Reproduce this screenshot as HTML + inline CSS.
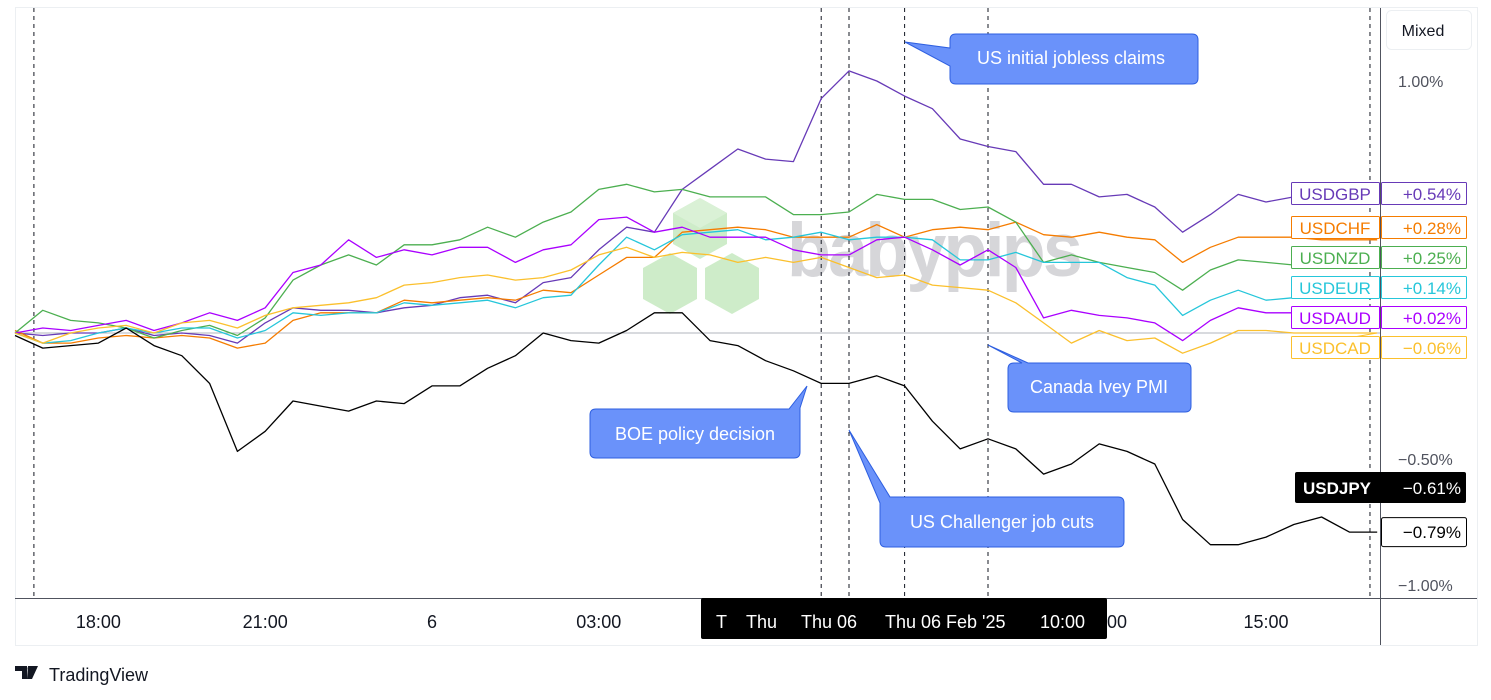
<!DOCTYPE html>
<html><head><meta charset="utf-8">
<style>
html,body{margin:0;padding:0;background:#fff;}
body{width:1491px;height:700px;overflow:hidden;font-family:"Liberation Sans",sans-serif;}
svg{display:block}
</style></head>
<body>
<svg id="chart" width="1491" height="700" viewBox="0 0 1491 700" xmlns="http://www.w3.org/2000/svg">
  <rect x="15.5" y="7.5" width="1462" height="638" fill="#fff" stroke="#eceff2" stroke-width="1"/>
  <g id="watermark" opacity="0.85">
    <polygon points="700,198 727,213 727,244 700,259 673,244 673,213" fill="#c6e9c0"/>
    <polygon points="700,198 727,213 700,228 673,213" fill="#d4efcf"/>
    <polygon points="670,253 697,268 697,299 670,314 643,299 643,268" fill="#c6e9c0"/>
    <polygon points="732,253 759,268 759,299 732,314 705,299 705,268" fill="#c6e9c0"/>
    <text x="787" y="276" font-family="Liberation Sans, sans-serif" font-weight="bold" font-size="76" fill="#cfcfd3" letter-spacing="-3" textLength="293" lengthAdjust="spacingAndGlyphs">babypips</text>
  </g>
  <line x1="15" y1="333" x2="1380" y2="333" stroke="#b2b5be" stroke-width="1"/>
  <g id="events"></g>
  <g id="series"></g>
  <g id="callouts">
    <g>
      <path d="M905,42 L950,48 L950,40 Q950,34 956,34 L1192,34 Q1198,34 1198,40 L1198,78 Q1198,84 1192,84 L956,84 Q950,84 950,78 L950,66 Z" fill="#6a92fa" stroke="#2e5fe0" stroke-width="1"/>
      <text x="1071" y="64" text-anchor="middle" font-size="18" fill="#fff">US initial jobless claims</text>
    </g>
    <g>
      <path d="M988,345 L1022,363 L1014,363 Q1008,363 1008,369 L1008,406 Q1008,412 1014,412 L1185,412 Q1191,412 1191,406 L1191,369 Q1191,363 1185,363 L1028,363 Z" fill="#6a92fa" stroke="#2e5fe0" stroke-width="1"/>
      <text x="1099" y="393" text-anchor="middle" font-size="18" fill="#fff">Canada Ivey PMI</text>
    </g>
    <g>
      <path d="M807,386 L800,408 L800,452 Q800,458 794,458 L596,458 Q590,458 590,452 L590,415 Q590,409 596,409 L789,409 Z" fill="#6a92fa" stroke="#2e5fe0" stroke-width="1"/>
      <text x="695" y="440" text-anchor="middle" font-size="18" fill="#fff">BOE policy decision</text>
    </g>
    <g>
      <path d="M849,430 L890,497 L1118,497 Q1124,497 1124,503 L1124,541 Q1124,547 1118,547 L886,547 Q880,547 880,541 L880,503 Z" fill="#6a92fa" stroke="#2e5fe0" stroke-width="1"/>
      <text x="1002" y="528" text-anchor="middle" font-size="18" fill="#fff">US Challenger job cuts</text>
    </g>
  </g>
  <line x1="15" y1="598.5" x2="1477" y2="598.5" stroke="#50535e" stroke-width="1"/>
  <line x1="1380.5" y1="8" x2="1380.5" y2="645" stroke="#50535e" stroke-width="1"/>
  <g id="yticks"></g>
  <g id="xticks"></g>
  <g>
    <rect x="701" y="598" width="406" height="41" rx="2" fill="#000"/>
    <text x="716" y="628" font-size="18" fill="#fff">T</text>
    <text x="746" y="628" font-size="18" fill="#fff">Thu</text>
    <text x="801" y="628" font-size="18" fill="#fff">Thu 06</text>
    <text x="885" y="628" font-size="18" fill="#fff">Thu 06 Feb '25</text>
    <text x="1040" y="628" font-size="18" fill="#fff">10:00</text>
  </g>
  <text x="1107" y="628" font-size="18" fill="#131722">00</text>
  <g>
    <rect x="1386.5" y="10.5" width="85" height="39" rx="5" fill="#fff" stroke="#eceff2"/>
    <text x="1423" y="36" text-anchor="middle" font-size="16" fill="#131722">Mixed</text>
  </g>
  <g id="labels"></g>
  <g>
    <path d="M15,666 h12 v13 h-5 v-8 h-7 z M28,666 h10 l-6,13 h-5 z" fill="#131722"/>
    <circle cx="30" cy="668.5" r="2.5" fill="#131722"/>
    <text x="49" y="681" font-size="18" fill="#131722">TradingView</text>
  </g>
</svg>
<script>
// time index (30-minute steps starting ~16:30)
const steps = 50;
const names = ["USDGBP","USDCHF","USDNZD","USDEUR","USDAUD","USDCAD","USDJPY"];
const colors = ["#673ab7","#f57c00","#4caf50","#26c6da","#aa00ff","#fbc02d","#000000"];
const usdgbp = [0.00,-0.01,0,0,0.02,-0.01,0,-0.01,-0.04,0.04,0.10,0.09,0.09,0.08,0.10,0.11,0.14,0.15,0.12,0.20,0.22,0.33,0.42,0.40,0.57,0.65,0.73,0.69,0.68,0.93,1.04,1.00,0.94,0.89,0.77,0.74,0.72,0.59,0.59,0.54,0.55,0.50,0.40,0.47,0.55,0.52,0.54,0.54,0.54,0.54];
const usdchf = [0.01,-0.04,-0.04,-0.02,-0.01,-0.02,-0.01,-0.02,-0.06,-0.04,0.05,0.08,0.08,0.08,0.13,0.12,0.13,0.14,0.13,0.17,0.16,0.23,0.30,0.30,0.40,0.41,0.42,0.41,0.38,0.38,0.38,0.43,0.38,0.41,0.42,0.41,0.44,0.39,0.38,0.40,0.38,0.37,0.28,0.34,0.38,0.38,0.38,0.37,0.37,0.37];
const usdnzd = [0.00,0.09,0.05,0.04,0.02,-0.02,0.01,0.03,-0.01,0.06,0.21,0.27,0.31,0.27,0.35,0.35,0.37,0.42,0.38,0.44,0.48,0.57,0.59,0.56,0.57,0.54,0.54,0.54,0.47,0.47,0.48,0.55,0.53,0.53,0.49,0.50,0.44,0.28,0.31,0.28,0.26,0.24,0.17,0.25,0.29,0.28,0.27,0.27,0.27,0.27];
const usdeur = [0,-0.04,-0.03,0,0.02,0,0.02,0.02,-0.02,0.01,0.08,0.07,0.08,0.08,0.12,0.11,0.12,0.13,0.10,0.14,0.15,0.27,0.38,0.33,0.39,0.40,0.41,0.37,0.38,0.40,0.37,0.38,0.38,0.37,0.29,0.29,0.32,0.28,0.28,0.28,0.22,0.19,0.07,0.13,0.17,0.13,0.14,0.14,0.14,0.14];
const usdaud = [0.00,0.02,0.01,0.03,0.05,0.01,0.04,0.08,0.05,0.10,0.24,0.27,0.37,0.30,0.33,0.31,0.34,0.34,0.28,0.33,0.35,0.45,0.46,0.40,0.42,0.38,0.38,0.38,0.33,0.31,0.31,0.37,0.38,0.33,0.27,0.33,0.26,0.06,0.09,0.07,0.06,0.04,-0.03,0.05,0.10,0.08,0.08,0.08,0.08,0.08];
const usdcad = [0,-0.04,0,0.02,0.03,0,0.04,0.05,0.02,0.07,0.10,0.11,0.12,0.14,0.19,0.20,0.22,0.23,0.21,0.22,0.25,0.31,0.34,0.30,0.32,0.31,0.28,0.30,0.28,0.30,0.26,0.22,0.23,0.19,0.18,0.17,0.12,0.04,-0.04,0.01,-0.03,-0.02,-0.08,-0.04,0.01,0.01,0,0,0,0];
const usdjpy = [-0.01,-0.06,-0.05,-0.04,0.02,-0.05,-0.09,-0.20,-0.47,-0.39,-0.27,-0.29,-0.31,-0.27,-0.28,-0.21,-0.21,-0.14,-0.09,0.00,-0.03,-0.04,0.01,0.08,0.08,-0.03,-0.05,-0.11,-0.15,-0.20,-0.20,-0.17,-0.21,-0.35,-0.46,-0.42,-0.46,-0.56,-0.52,-0.44,-0.47,-0.52,-0.74,-0.84,-0.84,-0.81,-0.76,-0.73,-0.79,-0.79];
const labelValues = ["+0.54%","+0.28%","+0.25%","+0.14%","+0.02%","\u22120.06%","\u22120.61%"];
const yTickValues = [1.0,-0.5,-1.0];
const yTickLabels = ["1.00%","\u22120.50%","\u22121.00%"];
const xTickHours = [1.5,4.5,7.5,10.5];
const xTickLabels = ["18:00","21:00","6","03:00"];
const xTickHours2 = [22.5];
const xTickLabels2 = ["15:00"];
const eventHours = [0.34,14.5,15.0,16.0,17.5,24.37];

const NS="http://www.w3.org/2000/svg";
const x0=15, stepPx=27.8;
function xOfIndex(i){return x0+i*stepPx;}
function xOfHour(h){return x0+h*2*stepPx;}
function yOf(v){return 333-v*252;}
function mk(tag,attrs,parent){const e=document.createElementNS(NS,tag);for(const k in attrs)e.setAttribute(k,attrs[k]);parent.appendChild(e);return e;}

const ev=document.getElementById('events');
eventHours.forEach(h=>{
  const l=mk('line',{x1:xOfHour(h),y1:8,x2:xOfHour(h),y2:598,stroke:'#131722','stroke-width':1,'stroke-dasharray':'4 4'},ev);
  
  
});

const data=[usdgbp,usdchf,usdnzd,usdeur,usdaud,usdcad,usdjpy];
const sg=document.getElementById('series');
data.forEach((arr,si)=>{
  const pts=arr.map((v,i)=>xOfIndex(i).toFixed(1)+','+yOf(v).toFixed(1)).join(' ');
  const p=mk('polyline',{points:pts,fill:'none',stroke:colors[si],'stroke-width':1.3,'stroke-linejoin':'round'},sg);
  
  
});

const yt=document.getElementById('yticks');
yTickValues.forEach((v,i)=>{
  const t=mk('text',{x:1398,y:yOf(v)+6,'font-size':16,fill:'#50535e'},yt);
  t.textContent=yTickLabels[i];
  
  
});
const xt=document.getElementById('xticks');
xTickHours.concat(xTickHours2).forEach((h,i)=>{
  const t=mk('text',{x:xOfHour(h),y:628,'font-size':18,fill:'#131722','text-anchor':'middle'},xt);
  t.textContent=xTickLabels.concat(xTickLabels2)[i];
  
  
});

const lg=document.getElementById('labels');
const rowY=[194,228,258,288,318,348];
for(let i=0;i<6;i++){
  const y=rowY[i];
  const ly=yOf(data[i][data[i].length-1]);
  const c=mk('line',{x1:1377,y1:ly,x2:1291,y2:y,stroke:colors[i],'stroke-width':1},lg);
  
  
  const nb=mk('rect',{x:1291.5,y:y-11.5,width:88,height:22,fill:'#fff',stroke:colors[i],'stroke-width':1,rx:1},lg);
  
  
  const nt=mk('text',{x:1335,y:y+6,'font-size':17,fill:colors[i],'text-anchor':'middle'},lg);
  nt.textContent=names[i];
  
  
  const vb=mk('rect',{x:1381.5,y:y-11.5,width:85,height:22,fill:'#fff',stroke:colors[i],'stroke-width':1,rx:1},lg);
  
  
  const vt=mk('text',{x:1461,y:y+6,'font-size':17,fill:colors[i],'text-anchor':'end'},lg);
  vt.textContent=labelValues[i];
  
  
}
const jb=mk('rect',{x:1295,y:472,width:171,height:31,rx:2,fill:'#000'},lg);


const jt=mk('text',{x:1303,y:494,'font-size':17,fill:'#fff','font-weight':'bold'},lg);
jt.textContent='USDJPY';


const jv=mk('text',{x:1461,y:494,'font-size':17,fill:'#fff','text-anchor':'end'},lg);
jv.textContent=labelValues[6];


const cy=yOf(usdjpy[usdjpy.length-1]);
const cb=mk('rect',{x:1381.5,y:cy-14.5,width:85,height:29,rx:2,fill:'#fff',stroke:'#000'},lg);


const ct=mk('text',{x:1461,y:cy+6,'font-size':17,fill:'#000','text-anchor':'end'},lg);
ct.textContent=(usdjpy[usdjpy.length-1]<0?'\u2212':'+')+Math.abs(usdjpy[usdjpy.length-1]).toFixed(2)+'%';


</script>
</body></html>
